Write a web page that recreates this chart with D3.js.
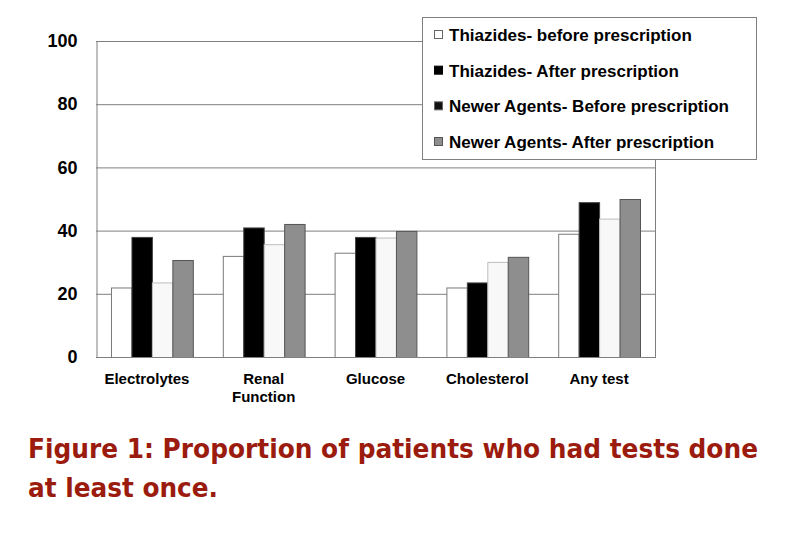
<!DOCTYPE html>
<html><head><meta charset="utf-8">
<script src="https://cdn.jsdelivr.net/npm/d3@7/dist/d3.min.js"></script>
<style>body{margin:0;background:#fff}svg{display:block}</style>
</head><body>
<svg id="c" width="800" height="535"></svg>
<script>
const categories = ["Electrolytes", "Renal Function", "Glucose", "Cholesterol", "Any test"];
const categoryLines = [["Electrolytes"], ["Renal", "Function"], ["Glucose"], ["Cholesterol"], ["Any test"]];
const seriesNames = ["Thiazides- before prescription", "Thiazides- After prescription", "Newer Agents- Before prescription", "Newer Agents- After prescription"];
const thiazidesBefore = [22, 32, 33, 22, 39];
const thiazidesAfter = [38, 41, 38, 23.6, 49];
const newerBefore = [23.6, 35.7, 37.8, 30.1, 43.8];
const newerAfter = [30.7, 42.1, 39.9, 31.7, 50];
const yTicks = [0, 20, 40, 60, 80, 100];
const titleLines = ["Figure 1: Proportion of patients who had tests done", "at least once."];

const series = [thiazidesBefore, thiazidesAfter, newerBefore, newerAfter];
const fills = ["#ffffff", "#000000", "#f8f8f8", "#8e8e8e"];
const strokes = ["#7a7a7a", "#444444", "#bdbdbd", "#555555"];
const legendFills = ["#ffffff", "#000000", "#111111", "#8e8e8e"];
const legendStrokes = ["#666666", "#000000", "#666666", "#555555"];

const svg = d3.select("#c");
const L = 96, R = 655, T = 41, B = 357;
const x0 = d3.scaleBand().domain(categories).range([L, R]).padding(0);
const x1 = d3.scaleBand().domain(d3.range(4)).range([15, x0.bandwidth() - 15]).padding(0);
const y = d3.scaleLinear().domain([0, 100]).range([B, T]);

// gridlines
svg.append("g").selectAll("line").data(yTicks.filter(d => d > 0)).join("line")
  .attr("x1", L).attr("x2", R).attr("y1", d => y(d) + 0.5).attr("y2", d => y(d) + 0.5)
  .attr("stroke", "#7f7f7f").attr("stroke-width", 1);
// right border
svg.append("line").attr("x1", R + 0.5).attr("x2", R + 0.5).attr("y1", T).attr("y2", B)
  .attr("stroke", "#7f7f7f");

// bars
const g = svg.append("g");
categories.forEach((c, i) => {
  series.forEach((s, j) => {
    g.append("rect")
      .attr("x", x0(c) + x1(j) + 0.5)
      .attr("y", y(s[i]) + 0.5)
      .attr("width", x1.bandwidth())
      .attr("height", B - y(s[i]))
      .attr("fill", fills[j])
      .attr("stroke", strokes[j])
      .attr("stroke-width", 1);
  });
});

// axes
const yAxis = d3.axisLeft(y).tickValues(yTicks).tickSize(0).tickPadding(19);
const ya = svg.append("g").attr("transform", `translate(${L + 0.5},0)`).call(yAxis);
ya.select(".domain").attr("stroke", "#7f7f7f");
ya.selectAll("text").attr("font-family", "Liberation Sans, Arial, sans-serif")
  .attr("font-weight", "bold").attr("font-size", 18).attr("fill", "#000");
svg.append("line").attr("x1", L).attr("x2", R + 1).attr("y1", B + 0.5).attr("y2", B + 0.5)
  .attr("stroke", "#7f7f7f");

// x labels
const xl = svg.append("g");
categories.forEach((c, i) => {
  const cx = x0(c) + x0.bandwidth() / 2 - (i === 0 ? 5 : 0);
  const t = xl.append("text").attr("x", cx).attr("y", 384)
    .attr("text-anchor", "middle").attr("font-family", "Liberation Sans, Arial, sans-serif")
    .attr("font-weight", "bold").attr("font-size", 15).attr("fill", "#000");
  categoryLines[i].forEach((ln, k) => {
    t.append("tspan").attr("x", cx).attr("dy", k === 0 ? 0 : 18).text(ln);
  });
});

// legend
const lg = svg.append("g");
lg.append("rect").attr("x", 422.5).attr("y", 17.5).attr("width", 334).attr("height", 142)
  .attr("fill", "#fff").attr("stroke", "#808080");
const legY = d3.scalePoint().domain(d3.range(4)).range([35, 142]);
seriesNames.forEach((n, j) => {
  lg.append("rect").attr("x", 434.5).attr("y", legY(j) - 4.5).attr("width", 8).attr("height", 8)
    .attr("fill", legendFills[j]).attr("stroke", legendStrokes[j]);
  lg.append("text").attr("x", 449).attr("y", legY(j) + 6)
    .attr("font-family", "Liberation Sans, Arial, sans-serif").attr("font-weight", "bold")
    .attr("font-size", 17).attr("fill", "#000").text(n);
});

// title
titleLines.forEach((t, k) => {
  const el = svg.append("text").attr("x", 28).attr("y", 458 + k * 39)
    .attr("font-family", "DejaVu Sans, sans-serif").attr("font-weight", "bold")
    .attr("font-size", 26).attr("fill", "#9b1c0e").text(t);
  if (k === 0) el.attr("textLength", 730).attr("lengthAdjust", "spacingAndGlyphs");
  else el.attr("textLength", 190).attr("lengthAdjust", "spacingAndGlyphs");
});
</script>
</body></html>
